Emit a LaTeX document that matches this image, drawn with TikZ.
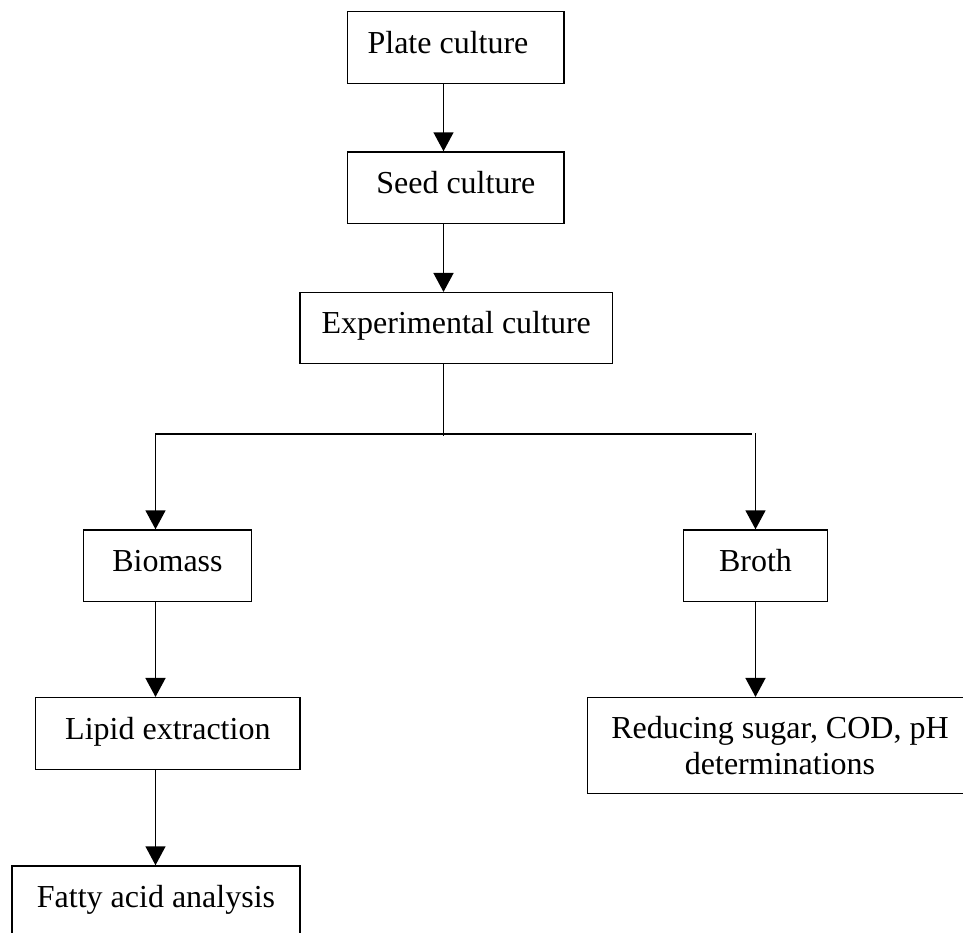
\documentclass[tikz,border=0pt]{standalone}
\usepackage{fontspec}
\setmainfont{Liberation Serif}
\usetikzlibrary{arrows.meta}
\begin{document}
\begin{tikzpicture}[x=1pt,y=-1pt,
  box/.style={draw, line width=1.5pt, inner sep=0pt, font=\fontsize{32}{36}\selectfont,
    text height=21pt, text depth=10pt, minimum height=71.6pt},
  multibox/.style={draw, line width=1.5pt, inner sep=0pt, font=\fontsize{32}{36}\selectfont,
    align=center, minimum height=95.6pt},
  conn/.style={line width=1.5pt, line join=miter},
  arr/.style={conn, -{Triangle[length=19pt,width=20pt]}}]
\useasboundingbox (0,0) rectangle (963,932);
\clip (0,0) rectangle (963,932);
% boxes
\node[box, minimum width=216.3pt] (plate) at (455.85,47.5) {Plate culture\hspace*{15.7pt}};
\node[box, minimum width=216.3pt] (seed) at (455.85,187.8) {Seed culture};
\node[box, minimum width=312.3pt, minimum height=70.8pt] (exp) at (456.2,328.1) {Experimental culture};
\node[box, minimum width=168.4pt] (biomass) at (167.5,565.85) {Biomass};
\node[box, minimum width=264.3pt] (lipid) at (167.85,733.5) {Lipid extraction};
\node[box, minimum width=288pt] (fatty) at (156,901.8) {Fatty acid analysis};
\node[box, minimum width=144.4pt] (broth) at (755.5,565.85) {Broth};
\node[multibox, minimum width=385.4pt] (reduce) at (780,745.5) {Reducing sugar, COD, pH\\determinations};
% connector coordinates
\coordinate (tx) at (443.5,0);
\coordinate (tb) at (443.5,435.5);
\coordinate (hl) at (155.5,434);
\coordinate (hr) at (751.5,434);
\coordinate (vr) at (755.5,433);
% connectors
\draw[arr] (tx |- plate.south) -- (tx |- seed.north);
\draw[arr] (tx |- seed.south) -- (tx |- exp.north);
\draw[conn] (tx |- exp.south) -- (tb);
\draw[arr] (hr) -- (hl) -- (hl |- biomass.north);
\draw[arr] (vr) -- (vr |- broth.north);
\draw[arr] (hl |- biomass.south) -- (hl |- lipid.north);
\draw[arr] (hl |- lipid.south) -- (hl |- fatty.north);
\draw[arr] (broth.south) -- (broth.south |- reduce.north);
\end{tikzpicture}
\end{document}
